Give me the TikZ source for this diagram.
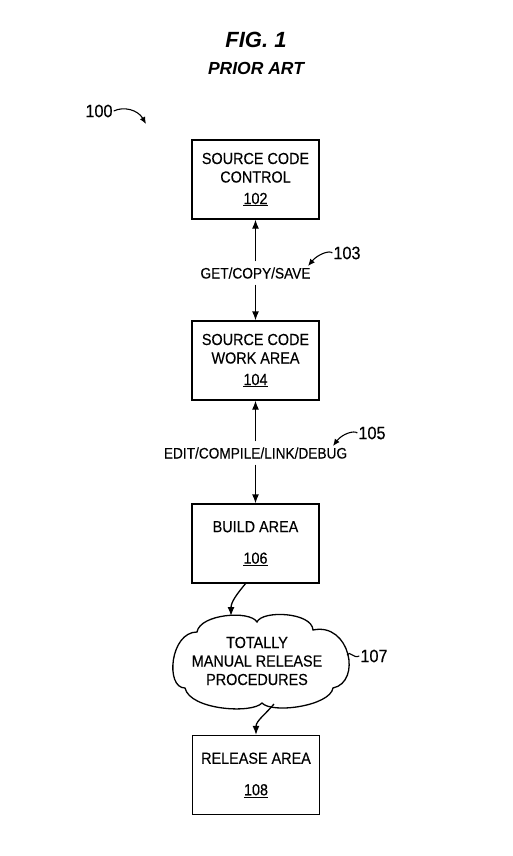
\documentclass[tikz,border=0pt]{standalone}
\usepackage{fontspec}
\setmainfont{Liberation Sans}[FakeStretch=0.9,FakeBold=0.3]
\newfontfamily\titlefont{Liberation Sans}
\usetikzlibrary{arrows.meta}
\begin{document}
\begin{tikzpicture}[x=1pt,y=-1pt,
  box/.style={draw, line width=1.3pt, minimum width=127pt, minimum height=79pt, align=center, inner sep=0pt, font=\fontsize{16}{18.5}\selectfont},
  lbl/.style={font=\fontsize{15.2}{18}\selectfont, text height=11pt, text depth=0pt, inner xsep=0pt, inner ysep=6pt},
  refn/.style={font=\fontsize{18}{21}\selectfont, inner sep=1pt},
  arr/.style={line width=1.3pt, -{Latex[length=9pt,width=7pt]}},
  leader/.style={line width=1.1pt, -{Latex[length=7pt,width=6pt]}},
  cloudtext/.style={align=center, inner sep=0pt, font=\fontsize{16}{18.5}\selectfont}
]
\useasboundingbox (0,0) rectangle (512,856);
% titles
\node[font=\titlefont\bfseries\itshape\fontsize{22}{25}\selectfont] (fig) at (256,40) {FIG. 1};
\node[font=\titlefont\bfseries\itshape\fontsize{17.5}{20}\selectfont] (prior) at (256,68) {PRIOR ART};
% boxes
\node[box] (b102) at (255.5,179.5) {SOURCE CODE\\CONTROL\\[3pt]\underline{102}};
\node[box] (b104) at (255.5,360.5) {SOURCE CODE\\WORK AREA\\[3pt]\underline{104}};
\node[box] (b106) at (255.5,543.5) {BUILD AREA\\[13pt]\underline{106}};
\node[box] (b108) at (256,775) {RELEASE AREA\\[13pt]\underline{108}};
% cloud
\node[cloudtext] (cl) at (257,661) {TOTALLY\\MANUAL RELEASE\\PROCEDURES};
\draw[line width=1.3pt] (197,632) .. controls (200,614) and (250,610) .. (257,622)
  .. controls (262,610) and (312,612) .. (313,630)
  .. controls (350,622) and (362,682) .. (333,688)
  .. controls (330,706) and (272,714) .. (262,703)
  .. controls (252,714) and (190,710) .. (185,688)
  .. controls (165,688) and (170,632) .. cycle;
\coordinate (clin) at (231,616);
\coordinate (clout) at (274,704);
% connector labels
\node[lbl] (get) at (255.5,273) {GET/COPY/SAVE};
\node[lbl] (edit) at (255.5,453) {EDIT/COMPILE/LINK/DEBUG};
% connectors
\draw[arr] (get.north) -- (b102.south);
\draw[arr] (get.south) -- (b104.north);
\draw[arr] (edit.north) -- (b104.south);
\draw[arr] (edit.south) -- (b106.north);
\draw[arr] ([xshift=-10pt]b106.south) to[out=-130,in=90] (clin);
\draw[arr] (clout) to[out=-130,in=90] (b108.north);
% reference numerals
\node[refn] (l100) at (99,111) {100};
\coordinate (p100) at (146,124);
\draw[leader] (l100.east) .. controls (124,106) and (138,110) .. (p100);
\node[refn] (l103) at (347,253) {103};
\coordinate (p103) at (308,266);
\draw[leader] (l103.west) .. controls (330,250) and (318,254) .. (p103);
\node[refn] (l105) at (372,433) {105};
\coordinate (p105) at (333,446);
\draw[leader] (l105.west) .. controls (354,430) and (342,434) .. (p105);
\node[refn] (l107) at (374,656) {107};
\coordinate (c107) at (347,655);
\draw[line width=1.1pt] (c107) .. controls (350,650) and (353,659) .. (l107.west);
\end{tikzpicture}
\end{document}
